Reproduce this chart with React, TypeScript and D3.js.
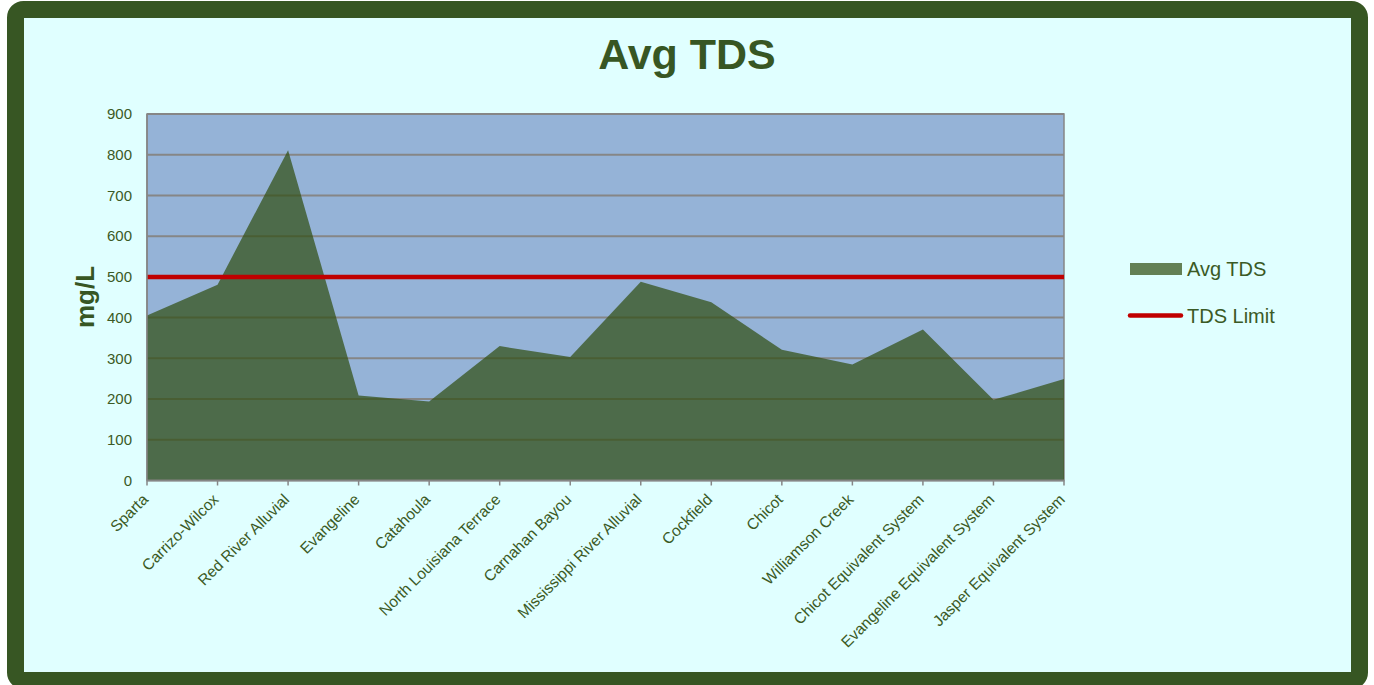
import * as d3 from 'd3'
import React from 'react'

const aquifers = [
    'Sparta', 'Carrizo-Wilcox', 'Red River Alluvial', 'Evangeline', 'Catahoula',
    'North Louisiana Terrace', 'Carnahan Bayou', 'Mississippi River Alluvial', 'Cockfield',
    'Chicot', 'Williamson Creek', 'Chicot Equivalent System', 'Evangeline Equivalent System',
    'Jasper Equivalent System',
]
const avgTds = [405, 481, 811, 209, 194, 330, 303, 488, 438, 321, 285, 371, 198, 249]
const tdsLimit = 500
const yTicks = [0, 100, 200, 300, 400, 500, 600, 700, 800, 900]

const W = 1374
const H = 685
const green = '#375623'
const txt = '#3b5a25'

const App = () => {
    const x = d3.scalePoint<string>().domain(aquifers).range([147, 1064])
    const y = d3.scaleLinear().domain([0, 900]).range([480.5, 114])

    const area = d3.area<number>()
        .x((d, i) => x(aquifers[i])!)
        .y0(y(0))
        .y1(d => y(d))

    return (
        <div style={{ position: 'absolute', left: 0, top: 0 }}>
            <svg width={W} height={H} style={{ display: 'block', fontFamily: 'Liberation Sans, Arial, sans-serif' }}>
                {/* frame */}
                <rect x={15.5} y={9.5} width={1344} height={671} rx={8} fill="#E0FFFF" stroke={green} strokeWidth={17} />

                <text x={687} y={69} textAnchor="middle" fontSize={43} fontWeight="bold" fill={green}>Avg TDS</text>

                {/* plot area */}
                <rect x={147} y={114} width={917} height={y(0) - 114} fill="#95B3D7" stroke="#868686" strokeWidth={1.5} />
                {yTicks.slice(1).map(t => (
                    <line key={t} x1={147} x2={1064} y1={y(t)} y2={y(t)} stroke="#868686" strokeWidth={2} />
                ))}

                <path d={area(avgTds)!} fill="#324F13" fillOpacity={0.72} />

                <line x1={147} x2={1064} y1={y(tdsLimit)} y2={y(tdsLimit)} stroke="#C00000" strokeWidth={4.5} />

                {/* axes */}
                <line x1={147} x2={147} y1={114} y2={y(0)} stroke="#868686" strokeWidth={1.5} />
                <line x1={147} x2={1064} y1={y(0)} y2={y(0)} stroke="#868686" strokeWidth={2} />
                {aquifers.map(a => (
                    <line key={a} x1={x(a)} x2={x(a)} y1={y(0)} y2={y(0) + 5} stroke="#868686" strokeWidth={1.5} />
                ))}

                {yTicks.map(t => (
                    <text key={t} x={132} y={y(t)} dy="0.35em" textAnchor="end" fontSize={15} fill={txt}>{t}</text>
                ))}

                {aquifers.map(a => (
                    <text key={a} transform={`translate(${x(a)! + 2},${y(0) + 20}) rotate(-45)`} textAnchor="end"
                        fontSize={15.5} fill={txt}>{a}</text>
                ))}

                <text transform={`translate(94,297) rotate(-90)`} textAnchor="middle" fontSize={26} fontWeight="bold" fill={green}>mg/L</text>

                {/* legend */}
                <rect x={1130} y={263} width={52} height={12} fill="#324F13" fillOpacity={0.72} />
                <text x={1187} y={276} fontSize={20} fill={txt}>Avg TDS</text>
                <line x1={1130} x2={1181} y1={315.5} y2={315.5} stroke="#C00000" strokeWidth={4.5} strokeLinecap="round" />
                <text x={1187} y={323} fontSize={20} fill={txt}>TDS Limit</text>
            </svg>
        </div>
    )
}

export default App
